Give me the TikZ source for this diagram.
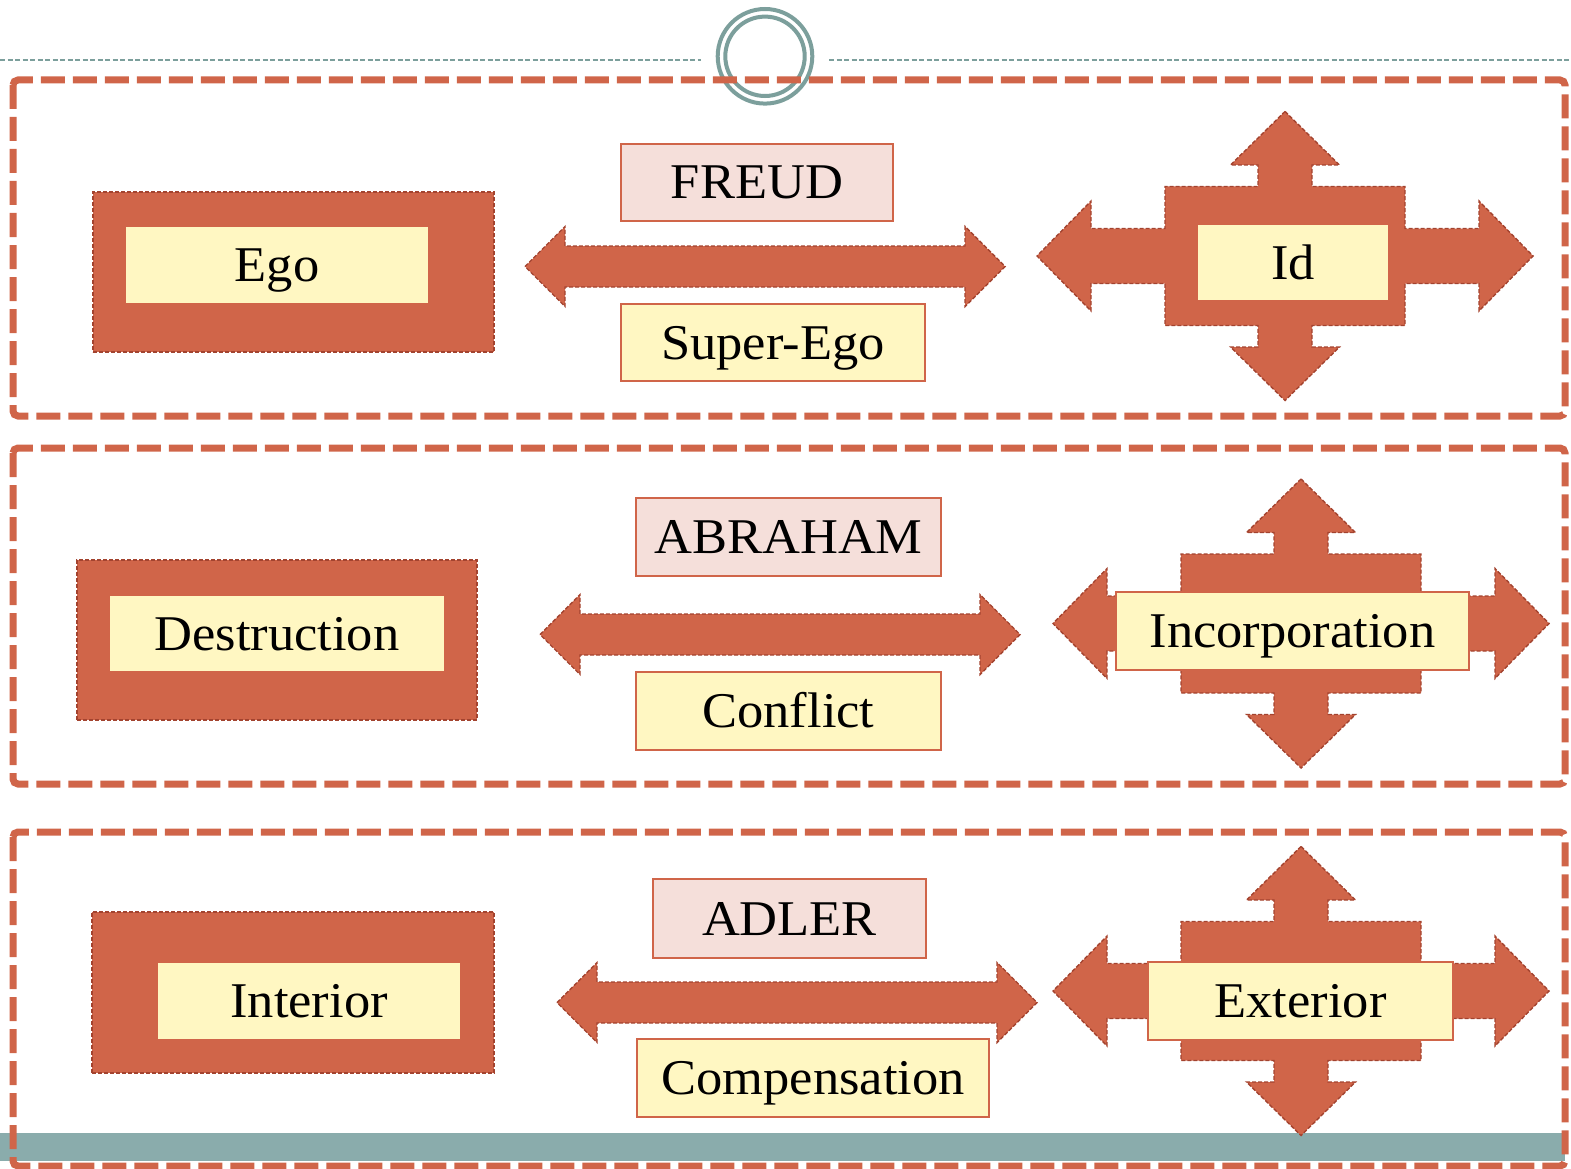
\documentclass[tikz,border=0pt]{standalone}
\usepackage{fontspec}
\setmainfont[FakeStretch=1.05]{Liberation Serif}
\definecolor{brick}{HTML}{D06549}
\definecolor{rimdark}{HTML}{A3432F}
\definecolor{cream}{HTML}{FFF7C2}
\definecolor{blush}{HTML}{F5DFDA}
\definecolor{sea}{HTML}{8AACAC}
\definecolor{searing}{HTML}{7C9F9C}
\begin{document}
\begin{tikzpicture}[x=1pt,y=-1pt,
  frame/.style={draw=brick, line width=7pt, dash pattern=on 24pt off 8pt, rounded corners=5pt},
  block/.style={fill=brick, draw=rimdark, line width=1.4pt, dash pattern=on 4pt off 2pt, inner sep=0pt},
  label/.style={font=\fontsize{50}{60}\selectfont, text height=33pt, text depth=0pt, inner sep=0pt, anchor=center},
  pinkbox/.style={label, fill=blush, draw=brick, line width=2pt},
  yellowbox/.style={label, fill=cream, draw=brick, line width=2pt},
  plainbox/.style={label, fill=cream},
  ring/.style={draw=searing, line width=4pt},
  hairdash/.style={draw=searing, line width=2pt, dash pattern=on 5pt off 2.5pt},
  quadarrow/.pic={
    \path[block] (0,-144.5) -- (54.5,-91) -- (27,-91) -- (27,-69.5) -- (120,-69.5)
      -- (120,-27.5) -- (194,-27.5) -- (194,-55) -- (248,0) -- (194,55) -- (194,27.5)
      -- (120,27.5) -- (120,69.5) -- (27,69.5) -- (27,91) -- (54.5,91) -- (0,144.5)
      -- (-54.5,91) -- (-27,91) -- (-27,69.5) -- (-120,69.5) -- (-120,27.5)
      -- (-194,27.5) -- (-194,55) -- (-248,0) -- (-194,-55) -- (-194,-27.5)
      -- (-120,-27.5) -- (-120,-69.5) -- (-27,-69.5) -- (-27,-91) -- (-54.5,-91) -- cycle;
  },
  duoarrow/.pic={
    \path[block] (-240,0) -- (-200,-40) -- (-200,-20.5) -- (200,-20.5) -- (200,-40)
      -- (240,0) -- (200,40) -- (200,20.5) -- (-200,20.5) -- (-200,40) -- cycle;
  }]
\useasboundingbox (0,0) rectangle (1571,1169);

% header rule and ring
\draw[hairdash] (0,60) -- (701,60);
\draw[hairdash] (829,60) -- (1571,60);
\draw[ring, fill=white] (765,56.3) circle[radius=47.3pt];
\draw[ring] (765,56.3) circle[radius=39.7pt];

% footer band
\fill[sea] (0,1133) rectangle (1565,1161);

% dashed panels
\draw[frame] (13,80) rectangle (1565,416);
\draw[frame] (13,448) rectangle (1565,784);
\draw[frame] (13,832) rectangle (1565,1166);

% ---- panel 1 ----
\node[block, minimum width=401pt, minimum height=160pt] (egoframe) at (293.5,272) {};
\node[plainbox, minimum width=302pt, minimum height=76pt] (ego) at (277,265) {Ego};
\pic (link1) at (765,266.5) {duoarrow};
\node[pinkbox, minimum width=272pt, minimum height=77pt] (freud) at (757,182.5) {FREUD};
\node[yellowbox, minimum width=304pt, minimum height=77pt] (superego) at (773,342.5) {Super-Ego};
\pic (spread1) at (1285,256) {quadarrow};
\node[plainbox, minimum width=190pt, minimum height=75pt] (id) at (1293,262.5) {Id};

% ---- panel 2 ----
\node[block, minimum width=400pt, minimum height=160pt] (destframe) at (277,640) {};
\node[plainbox, minimum width=334pt, minimum height=75pt] (destruction) at (277,633.5) {Destruction};
\pic (link2) at (780,634.5) {duoarrow};
\node[pinkbox, minimum width=305pt, minimum height=78pt] (abraham) at (788.5,537) {ABRAHAM};
\node[yellowbox, minimum width=305pt, minimum height=78pt] (conflict) at (788.5,711) {Conflict};
\pic (spread2) at (1301,623.5) {quadarrow};
\node[yellowbox, minimum width=353pt, minimum height=78pt] (incorporation) at (1292.5,631) {Incorporation};

% ---- panel 3 ----
\node[block, minimum width=402pt, minimum height=161pt] (intframe) at (293,992.5) {};
\node[plainbox, minimum width=302pt, minimum height=76pt] (interior) at (309,1001) {Interior};
\pic (link3) at (797,1002.5) {duoarrow};
\node[pinkbox, minimum width=273pt, minimum height=79pt] (adler) at (789.5,918.5) {ADLER};
\node[yellowbox, minimum width=352pt, minimum height=78pt] (compensation) at (813,1078) {Compensation};
\pic (spread3) at (1301,991) {quadarrow};
\node[yellowbox, minimum width=305pt, minimum height=78pt] (exterior) at (1300.5,1001) {Exterior};
\end{tikzpicture}
\end{document}
